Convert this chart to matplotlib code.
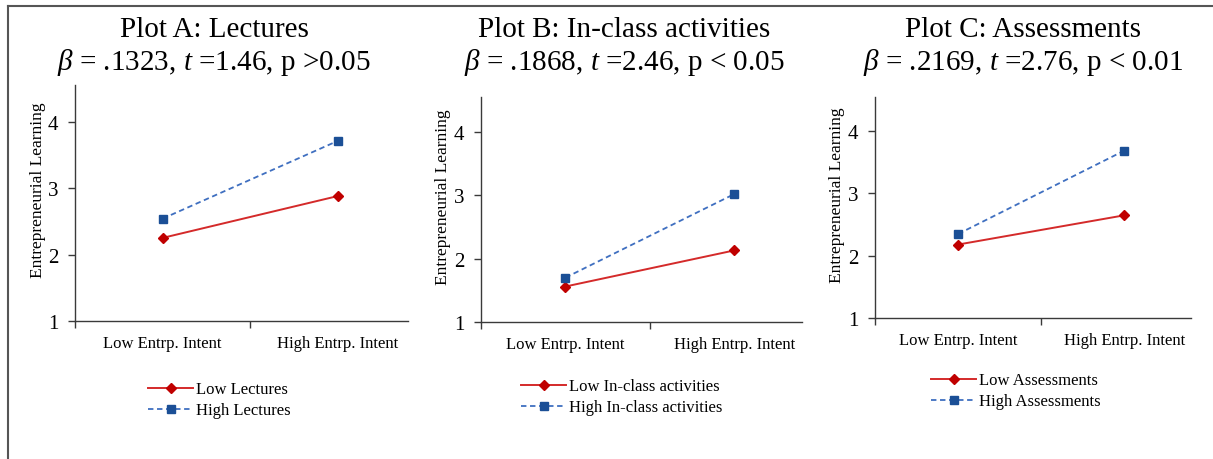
import matplotlib
matplotlib.use("Agg")
import matplotlib.pyplot as plt
from matplotlib.lines import Line2D

plt.rcParams['font.family'] = ['Liberation Serif', 'DejaVu Serif']
plt.rcParams['mathtext.fontset'] = 'custom'
plt.rcParams['mathtext.rm'] = 'Liberation Serif'
plt.rcParams['mathtext.it'] = 'Liberation Serif:italic'

# data
conditions = ["Low Entrp. Intent", "High Entrp. Intent"]
lectures_low = [2.25, 2.88]
lectures_high = [2.54, 3.71]
inclass_low = [1.56, 2.13]
inclass_high = [1.70, 3.02]
assess_low = [2.18, 2.65]
assess_high = [2.35, 3.69]

titles = ["Plot A: Lectures", "Plot B: In-class activities", "Plot C: Assessments"]
stats = [r"$\beta$ = .1323, $t$ =1.46, p >0.05",
         r"$\beta$ = .1868, $t$ =2.46, p < 0.05",
         r"$\beta$ = .2169, $t$ =2.76, p < 0.01"]
moderators = ["Lectures", "In-class activities", "Assessments"]
low_series = [lectures_low, inclass_low, assess_low]
high_series = [lectures_high, inclass_high, assess_high]

W, H = 1213, 460
fig = plt.figure(figsize=(W / 100, H / 100), dpi=100)

# axes boxes in pixels: left, right, top, bottom
boxes = [(75, 408, 86, 322), (481, 802, 98, 323), (875, 1191, 98, 319)]
label_x = [-0.088, -0.092, -0.095]
title_x = [214, 624, 1023]
legend_pos = [(148, 401), (521, 398), (931, 392)]

red_line = '#D42A2A'
red_mark = '#C00000'
blue_line = '#3F6FC0'
blue_mark = '#1B4F96'
axis_col = '#3A3A3A'

for i in range(3):
    l, r, t, b = boxes[i]
    ax = fig.add_axes([l / W, 1 - b / H, (r - l) / W, (b - t) / H])
    x = list(range(len(conditions)))
    ax.plot(x, low_series[i], color=red_line, lw=1.4, marker='D', ms=5,
            mfc=red_mark, mec=red_mark, label="Low " + moderators[i])
    ax.plot(x, high_series[i], color=blue_line, lw=1.3, ls=(0, (3, 2)), marker='s', ms=6,
            mfc=blue_mark, mec=blue_mark, label="High " + moderators[i])
    ax.set_xlim(-0.5, 1.4)
    ax.set_ylim(1, 4.55)
    ax.set_yticks([1, 2, 3, 4])
    ax.tick_params(axis='y', labelsize=15, length=5, width=1, color=axis_col, pad=7)
    ax.set_xticks([-0.5, 0.5])
    ax.set_xticklabels([])
    ax.tick_params(axis='x', which='major', length=5, width=1, color=axis_col)
    ax.set_xticks(x, minor=True)
    ax.set_xticklabels(conditions, minor=True)
    ax.tick_params(axis='x', which='minor', length=0, labelsize=12, pad=10)
    for s in ['top', 'right']:
        ax.spines[s].set_visible(False)
    for s in ['left', 'bottom']:
        ax.spines[s].set_color(axis_col)
        ax.spines[s].set_linewidth(1)
    ax.set_ylabel("Entrepreneurial Learning", fontsize=12.5)
    ax.yaxis.set_label_coords(label_x[i], 0.56)

    fig.text(title_x[i] / W, 1 - 37 / H, titles[i], fontsize=21, ha='center', va='baseline')
    fig.text(title_x[i] / W, 1 - 70 / H, stats[i], fontsize=21, ha='center', va='baseline')

    lx, ly = legend_pos[i]
    ax.legend(loc='center left', bbox_to_anchor=(lx / W, 1 - ly / H),
              bbox_transform=fig.transFigure, frameon=False, fontsize=12,
              handlelength=2.7, handletextpad=0.2, labelspacing=0.3,
              borderpad=0, borderaxespad=0)

# outer frame lines (top and left)
fig.add_artist(Line2D([8 / W, 1], [1 - 7 / H, 1 - 7 / H], transform=fig.transFigure,
                      color='#555555', lw=1.5))
fig.add_artist(Line2D([8 / W, 8 / W], [0, 1 - 7 / H], transform=fig.transFigure,
                      color='#555555', lw=1.5))

fig.savefig("out.png", dpi=100)
